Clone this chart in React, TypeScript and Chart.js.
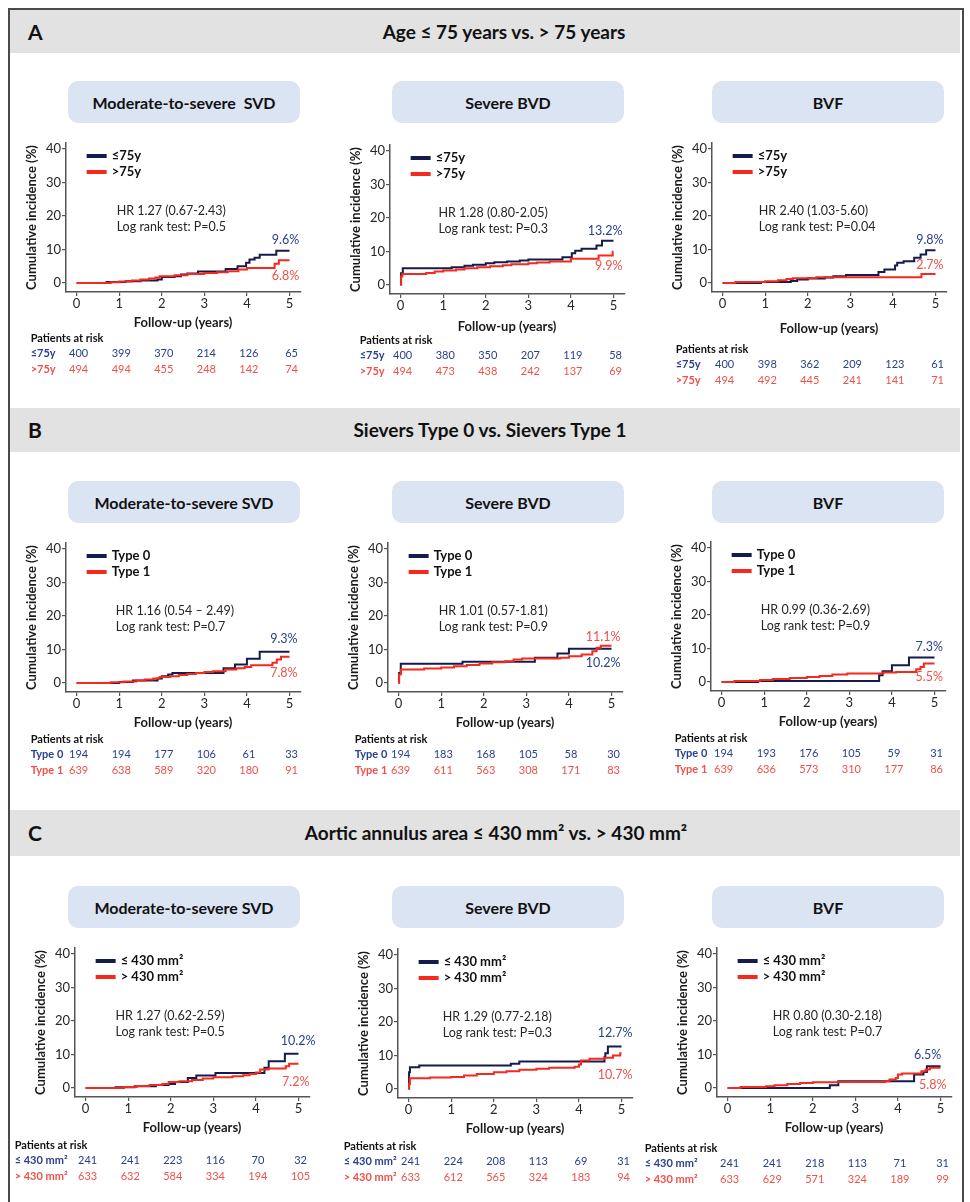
import React, { useEffect, useRef } from "react";
import { Chart, registerables } from "chart.js";
Chart.register(...registerables);

const FONT = "Lato, 'Open Sans', sans-serif";
const NAVY_LINE = "#141b4d";
const RED_LINE = "#f5291c";
const NAVY_TEXT = "#2a418d";
const RED_TEXT = "#ef5148";
const AXIS = "#555555";

const xTicks = [0, 1, 2, 3, 4, 5];
const yTicks = [0, 10, 20, 30, 40];

// ---------- Section A: Age <=75 vs >75 ----------
const aSvdLowT = [0, 0.7, 1.15, 1.5, 1.9, 2.0, 2.3, 2.45, 2.6, 2.85, 3.5, 3.78, 3.98, 4.06, 4.18, 4.3, 4.69, 5.0];
const aSvdLowY = [0, 0.3, 0.5, 0.7, 1.0, 1.8, 2.0, 2.5, 2.8, 3.4, 4.2, 5.0, 6.0, 7.0, 7.5, 8.4, 9.6, 9.6];
const aSvdHighT = [0, 0.8, 1.0, 1.3, 1.5, 1.7, 1.85, 1.95, 2.3, 2.6, 3.0, 3.3, 3.55, 3.8, 4.0, 4.65, 4.75, 5.0];
const aSvdHighY = [0, 0.2, 0.4, 0.7, 1.0, 1.3, 1.6, 2.0, 2.3, 2.7, 3.0, 3.2, 3.5, 4.0, 4.5, 5.7, 6.8, 6.8];
const aBvdLowT = [0, 0.01, 0.05, 1.2, 1.5, 1.7, 2.0, 2.2, 2.5, 2.8, 3.0, 3.8, 4.02, 4.1, 4.25, 4.6, 4.73, 5.0];
const aBvdLowY = [0, 3.5, 5.0, 5.3, 5.7, 6.0, 6.5, 6.8, 7.0, 7.3, 7.6, 8.3, 9.5, 10.2, 10.8, 11.8, 13.2, 13.2];
const aBvdHighT = [0, 0.01, 0.04, 0.6, 0.8, 1.0, 1.3, 1.5, 1.8, 2.1, 2.4, 2.6, 3.0, 3.2, 3.5, 4.0, 4.65, 4.98, 5.0];
const aBvdHighY = [0, 2.5, 3.3, 3.6, 4.0, 4.3, 4.6, 5.0, 5.3, 5.6, 5.9, 6.2, 6.5, 6.7, 7.0, 7.8, 8.8, 9.9, 9.9];
const aBvfLowT = [0, 0.9, 1.6, 1.75, 2.0, 2.4, 2.6, 2.9, 3.66, 3.8, 4.05, 4.1, 4.25, 4.5, 4.65, 4.78, 5.0];
const aBvfLowY = [0, 0.3, 0.6, 1.0, 1.3, 1.6, 2.0, 2.4, 3.3, 4.0, 5.2, 6.0, 6.5, 7.5, 8.5, 9.8, 9.8];
const aBvfHighT = [0, 0.3, 1.0, 1.3, 1.5, 1.65, 2.0, 2.2, 4.67, 5.0];
const aBvfHighY = [0, 0.3, 0.5, 0.8, 1.2, 1.4, 1.5, 1.7, 2.7, 2.7];
const aSvdRiskLow = [400, 399, 370, 214, 126, 65];
const aSvdRiskHigh = [494, 494, 455, 248, 142, 74];
const aBvdRiskLow = [400, 380, 350, 207, 119, 58];
const aBvdRiskHigh = [494, 473, 438, 242, 137, 69];
const aBvfRiskLow = [400, 398, 362, 209, 123, 61];
const aBvfRiskHigh = [494, 492, 445, 241, 141, 71];

// ---------- Section B: Sievers type 0 vs 1 ----------
const bSvdLowT = [0, 1.0, 1.32, 1.9, 2.0, 2.15, 2.25, 3.45, 3.72, 4.0, 4.3, 5.0];
const bSvdLowY = [0, 0.3, 0.7, 1.3, 2.0, 2.5, 3.0, 4.4, 5.5, 7.2, 9.3, 9.3];
const bSvdHighT = [0, 0.8, 1.1, 1.4, 1.6, 1.8, 1.95, 2.2, 2.4, 2.6, 2.8, 3.0, 3.2, 3.5, 3.75, 3.95, 4.1, 4.6, 4.7, 4.8, 5.0];
const bSvdHighY = [0, 0.2, 0.4, 0.7, 1.0, 1.3, 1.8, 2.0, 2.4, 2.7, 3.0, 3.3, 3.5, 4.0, 4.4, 4.8, 5.3, 6.0, 7.0, 7.8, 7.8];
const bBvdLowT = [0, 0.01, 0.05, 1.5, 3.2, 3.73, 4.0, 5.0];
const bBvdLowY = [0, 3.0, 5.7, 6.3, 7.5, 8.8, 10.2, 10.2];
const bBvdHighT = [0, 0.01, 0.05, 0.6, 1.0, 1.3, 1.6, 1.9, 2.2, 2.5, 2.7, 2.9, 3.8, 4.0, 4.3, 4.55, 4.65, 4.75, 5.0];
const bBvdHighY = [0, 2.5, 4.0, 4.3, 4.6, 5.0, 5.4, 5.8, 6.2, 6.5, 7.0, 7.3, 7.5, 8.0, 8.5, 9.5, 10.5, 11.1, 11.1];
const bBvfLowT = [0, 0.86, 3.7, 3.78, 4.0, 4.4, 5.0];
const bBvfLowY = [0, 0.3, 2.0, 3.2, 5.0, 7.3, 7.3];
const bBvfHighT = [0, 0.3, 0.9, 1.2, 1.6, 2.0, 2.3, 2.6, 2.95, 3.8, 4.1, 4.57, 4.67, 4.75, 5.0];
const bBvfHighY = [0, 0.3, 0.6, 0.9, 1.2, 1.5, 1.8, 2.2, 2.5, 2.8, 3.0, 3.8, 4.5, 5.5, 5.5];
const bSvdRiskLow = [194, 194, 177, 106, 61, 33];
const bSvdRiskHigh = [639, 638, 589, 320, 180, 91];
const bBvdRiskLow = [194, 183, 168, 105, 58, 30];
const bBvdRiskHigh = [639, 611, 563, 308, 171, 83];
const bBvfRiskLow = [194, 193, 176, 105, 59, 31];
const bBvfRiskHigh = [639, 636, 573, 310, 177, 86];

// ---------- Section C: annulus area ----------
const cSvdLowT = [0, 0.7, 1.15, 1.65, 1.95, 2.1, 2.4, 2.6, 3.05, 4.2, 4.3, 4.68, 5.0];
const cSvdLowY = [0, 0.2, 0.5, 0.9, 1.2, 1.8, 3.0, 3.7, 4.5, 6.0, 8.0, 10.2, 10.2];
const cSvdHighT = [0, 0.9, 1.2, 1.5, 1.8, 1.95, 2.2, 2.5, 2.75, 3.0, 3.45, 3.7, 3.85, 4.0, 4.1, 4.3, 4.7, 4.78, 5.0];
const cSvdHighY = [0, 0.3, 0.6, 0.9, 1.2, 1.8, 2.0, 2.4, 2.8, 3.2, 3.5, 3.8, 4.2, 4.6, 5.5, 5.8, 6.5, 7.2, 7.2];
const cBvdLowT = [0, 0.01, 0.03, 0.25, 2.4, 2.6, 4.6, 4.62, 4.68, 5.0];
const cBvdLowY = [0, 5.0, 6.5, 7.0, 7.5, 8.2, 9.5, 10.7, 12.7, 12.7];
const cBvdHighT = [0, 0.01, 0.03, 0.5, 1.0, 1.3, 1.6, 2.0, 2.3, 2.6, 3.0, 3.3, 3.9, 4.0, 4.05, 4.25, 4.6, 4.8, 4.97, 5.0];
const cBvdHighY = [0, 1.5, 3.2, 3.4, 3.6, 4.0, 4.5, 5.0, 5.3, 5.7, 6.0, 6.3, 6.6, 7.3, 8.5, 9.0, 9.3, 10.0, 10.7, 10.7];
const cBvfLowT = [0, 2.4, 2.6, 4.38, 4.6, 4.68, 5.0];
const cBvfLowY = [0, 0.8, 2.0, 4.0, 4.8, 6.5, 6.5];
const cBvfHighT = [0, 0.3, 0.9, 1.1, 1.4, 1.7, 2.0, 2.6, 3.7, 3.8, 3.95, 4.0, 4.1, 4.55, 4.65, 4.75, 5.0];
const cBvfHighY = [0, 0.3, 0.5, 0.8, 1.2, 1.5, 1.7, 1.8, 2.0, 2.5, 3.0, 4.0, 4.3, 5.0, 5.5, 6.0, 6.0];
const cSvdRiskLow = [241, 241, 223, 116, 70, 32];
const cSvdRiskHigh = [633, 632, 584, 334, 194, 105];
const cBvdRiskLow = [241, 224, 208, 113, 69, 31];
const cBvdRiskHigh = [633, 612, 565, 324, 183, 94];
const cBvfRiskLow = [241, 241, 218, 113, 71, 31];
const cBvfRiskHigh = [633, 629, 571, 324, 189, 99];

const ageNames = ["\u226475y", ">75y"];
const typeNames = ["Type 0", "Type 1"];
const areaNames = ["\u2264 430 mm\u00b2", "> 430 mm\u00b2"];

type EndLabel = { text: string; x: number; y: number };
type Panel = {
  key: string;
  x0: number;
  y0: number;
  names: string[];
  lowT: number[];
  lowY: number[];
  highT: number[];
  highY: number[];
  riskLow: number[];
  riskHigh: number[];
  hr: string;
  p: string;
  hrX: number;
  endLow: EndLabel;
  endHigh: EndLabel;
  riskOff: number;
  riskDy: number;
  followDy: number;
};

const panels: Panel[] = [
  { key: "a1", x0: 77, y0: 283, names: ageNames, lowT: aSvdLowT, lowY: aSvdLowY, highT: aSvdHighT, highY: aSvdHighY, riskLow: aSvdRiskLow, riskHigh: aSvdRiskHigh, hr: "HR 1.27 (0.67-2.43)", p: "Log rank test: P=0.5", hrX: 0.94, endLow: { text: "9.6%", x: 5.23, y: 12.8 }, endHigh: { text: "6.8%", x: 5.23, y: 2.1 }, riskOff: -46, riskDy: -1, followDy: 0 },
  { key: "a2", x0: 401, y0: 285, names: ageNames, lowT: aBvdLowT, lowY: aBvdLowY, highT: aBvdHighT, highY: aBvdHighY, riskLow: aBvdRiskLow, riskHigh: aBvdRiskHigh, hr: "HR 1.28 (0.80-2.05)", p: "Log rank test: P=0.3", hrX: 0.89, endLow: { text: "13.2%", x: 5.21, y: 16.1 }, endHigh: { text: "9.9%", x: 5.21, y: 5.7 }, riskOff: -41, riskDy: -1, followDy: 2 },
  { key: "a3", x0: 723, y0: 283, names: ageNames, lowT: aBvfLowT, lowY: aBvfLowY, highT: aBvfHighT, highY: aBvfHighY, riskLow: aBvfRiskLow, riskHigh: aBvfRiskHigh, hr: "HR 2.40 (1.03-5.60)", p: "Log rank test: P=0.04", hrX: 0.85, endLow: { text: "9.8%", x: 5.19, y: 12.8 }, endHigh: { text: "2.7%", x: 5.19, y: 5.4 }, riskOff: -47, riskDy: 10, followDy: 6 },
  { key: "b1", x0: 77, y0: 683, names: typeNames, lowT: bSvdLowT, lowY: bSvdLowY, highT: bSvdHighT, highY: bSvdHighY, riskLow: bSvdRiskLow, riskHigh: bSvdRiskHigh, hr: "HR 1.16 (0.54 \u2013 2.49)", p: "Log rank test: P=0.7", hrX: 0.92, endLow: { text: "9.3%", x: 5.19, y: 13.1 }, endHigh: { text: "7.8%", x: 5.19, y: 3.0 }, riskOff: -46, riskDy: 0, followDy: 0 },
  { key: "b2", x0: 399, y0: 683, names: typeNames, lowT: bBvdLowT, lowY: bBvdLowY, highT: bBvdHighT, highY: bBvdHighY, riskLow: bBvdRiskLow, riskHigh: bBvdRiskHigh, hr: "HR 1.01 (0.57-1.81)", p: "Log rank test: P=0.9", hrX: 0.94, endLow: { text: "10.2%", x: 5.21, y: 6.0 }, endHigh: { text: "11.1%", x: 5.21, y: 13.7 }, riskOff: -44, riskDy: 0, followDy: 0 },
  { key: "b3", x0: 722, y0: 682, names: typeNames, lowT: bBvfLowT, lowY: bBvfLowY, highT: bBvfHighT, highY: bBvfHighY, riskLow: bBvfRiskLow, riskHigh: bBvfRiskHigh, hr: "HR 0.99 (0.36-2.69)", p: "Log rank test: P=0.9", hrX: 0.92, endLow: { text: "7.3%", x: 5.2, y: 10.4 }, endHigh: { text: "5.5%", x: 5.2, y: 1.5 }, riskOff: -47, riskDy: 0, followDy: 0 },
  { key: "c1", x0: 86, y0: 1088, names: areaNames, lowT: cSvdLowT, lowY: cSvdLowY, highT: cSvdHighT, highY: cSvdHighY, riskLow: cSvdRiskLow, riskHigh: cSvdRiskHigh, hr: "HR 1.27 (0.62-2.59)", p: "Log rank test: P=0.5", hrX: 0.7, endLow: { text: "10.2%", x: 5.4, y: 14.0 }, endHigh: { text: "7.2%", x: 5.26, y: 1.8 }, riskOff: -71, riskDy: 1, followDy: 0 },
  { key: "c2", x0: 409, y0: 1089, names: areaNames, lowT: cBvdLowT, lowY: cBvdLowY, highT: cBvdHighT, highY: cBvdHighY, riskLow: cBvdRiskLow, riskHigh: cBvdRiskHigh, hr: "HR 1.29 (0.77-2.18)", p: "Log rank test: P=0.3", hrX: 0.8, endLow: { text: "12.7%", x: 5.26, y: 16.7 }, endHigh: { text: "10.7%", x: 5.26, y: 4.2 }, riskOff: -65, riskDy: 1, followDy: 0 },
  { key: "c3", x0: 728, y0: 1088, names: areaNames, lowT: cBvfLowT, lowY: cBvfLowY, highT: cBvfHighT, highY: cBvfHighY, riskLow: cBvfRiskLow, riskHigh: cBvfRiskHigh, hr: "HR 0.80 (0.30-2.18)", p: "Log rank test: P=0.7", hrX: 1.06, endLow: { text: "6.5%", x: 5.02, y: 9.9 }, endHigh: { text: "5.8%", x: 5.14, y: 0.9 }, riskOff: -83, riskDy: 4, followDy: 0 },
];

const CW = 340;
const CH = 258;
const ORIGIN_X = 97; // canvas x of t=0 (approx)
const ORIGIN_Y = 152; // canvas y of value 0
const Y_AXIS_W = 86;

function makeOverlay(p: Panel) {
  return {
    id: "kmOverlay",
    afterDraw(chart: any) {
      const { ctx, chartArea: ca, scales } = chart;
      const X = (v: number) => scales.x.getPixelForValue(v);
      const Y = (v: number) => scales.y.getPixelForValue(v);
      ctx.save();
      // legend
      const lx0 = X(0) + 10;
      const lx1 = X(0) + 30;
      const ly = Y(40);
      const leg: [string, string, number][] = [
        [NAVY_LINE, p.names[0], 7],
        [RED_LINE, p.names[1], 23],
      ];
      leg.forEach(([c, t, dy]) => {
        ctx.strokeStyle = c;
        ctx.lineWidth = 4;
        ctx.beginPath();
        ctx.moveTo(lx0, ly + dy);
        ctx.lineTo(lx1, ly + dy);
        ctx.stroke();
        ctx.fillStyle = "#111";
        ctx.font = `bold 13px ${FONT}`;
        ctx.textAlign = "left";
        ctx.textBaseline = "middle";
        ctx.fillText(t, lx1 + 5, ly + dy);
      });
      // HR text
      ctx.font = `12.5px ${FONT}`;
      ctx.fillStyle = "#262626";
      ctx.textAlign = "left";
      ctx.fillText(p.hr, X(p.hrX), Y(20) - 5);
      ctx.fillText(p.p, X(p.hrX), Y(20) + 11);
      // end labels
      ctx.textAlign = "right";
      ctx.font = `12.5px ${FONT}`;
      ctx.fillStyle = NAVY_TEXT;
      ctx.fillText(p.endLow.text, X(p.endLow.x), Y(p.endLow.y));
      ctx.fillStyle = RED_TEXT;
      ctx.fillText(p.endHigh.text, X(p.endHigh.x), Y(p.endHigh.y));
      // axis titles
      ctx.fillStyle = "#1a1a1a";
      ctx.font = `bold 13px ${FONT}`;
      ctx.save();
      ctx.translate(ca.left - 34, (ca.top + ca.bottom) / 2);
      ctx.rotate(-Math.PI / 2);
      ctx.textAlign = "center";
      ctx.fillText("Cumulative incidence (%)", 0, 0);
      ctx.restore();
      ctx.font = `bold 13px ${FONT}`;
      ctx.textAlign = "center";
      ctx.fillText("Follow-up (years)", (X(0) + X(5)) / 2, Y(0) + 40 + p.followDy);
      // risk table
      const r0 = Y(0) + p.riskDy;
      const lx = X(0) + p.riskOff;
      ctx.textAlign = "left";
      ctx.font = `bold 11px ${FONT}`;
      ctx.fillStyle = "#111";
      ctx.fillText("Patients at risk", lx, r0 + 56);
      ctx.fillStyle = NAVY_TEXT;
      ctx.fillText(p.names[0], lx, r0 + 71);
      ctx.fillStyle = RED_TEXT;
      ctx.fillText(p.names[1], lx, r0 + 87);
      ctx.font = `11px ${FONT}`;
      ctx.textAlign = "center";
      xTicks.forEach((t, i) => {
        ctx.fillStyle = NAVY_TEXT;
        ctx.fillText(String(p.riskLow[i]), X(t) + 2, r0 + 71);
        ctx.fillStyle = RED_TEXT;
        ctx.fillText(String(p.riskHigh[i]), X(t) + 2, r0 + 87);
      });
      ctx.restore();
    },
  };
}

function KMChart({ p }: { p: Panel }) {
  const ref = useRef<HTMLCanvasElement>(null);
  useEffect(() => {
    const toPts = (ts: number[], ys: number[]) => ts.map((t, i) => ({ x: t, y: ys[i] }));
    const chart = new Chart(ref.current as HTMLCanvasElement, {
      type: "line",
      data: {
        datasets: [
          {
            label: p.names[0],
            data: toPts(p.lowT, p.lowY),
            borderColor: NAVY_LINE,
            borderWidth: 2,
            pointRadius: 0,
            stepped: true,
            fill: false,
            order: 2,
          },
          {
            label: p.names[1],
            data: toPts(p.highT, p.highY),
            borderColor: RED_LINE,
            borderWidth: 2,
            pointRadius: 0,
            stepped: true,
            fill: false,
            order: 1,
          },
        ],
      },
      options: {
        animation: false,
        responsive: false,
        maintainAspectRatio: false,
        devicePixelRatio: 1,
        events: [],
        layout: { padding: { top: 12, right: CW - Y_AXIS_W - 235, bottom: 0, left: 0 }, autoPadding: false },
        plugins: { legend: { display: false }, tooltip: { enabled: false } },
        scales: {
          x: {
            type: "linear",
            min: -0.25,
            max: 5.27,
            afterBuildTicks: (s: any) => {
              s.ticks = xTicks.map((v) => ({ value: v }));
            },
            afterFit: (s: any) => {
              s.height = 97;
            },
            ticks: { font: { family: FONT, size: 13 }, color: "#262626", padding: 0, maxRotation: 0, autoSkip: false },
            grid: { drawOnChartArea: false, drawTicks: true, tickLength: 4, color: AXIS, lineWidth: 1.2 },
            border: { display: true, color: AXIS, width: 1.5 },
          },
          y: {
            type: "linear",
            min: -2.7,
            max: 41.8,
            afterBuildTicks: (s: any) => {
              s.ticks = yTicks.map((v) => ({ value: v }));
            },
            afterFit: (s: any) => {
              s.width = Y_AXIS_W;
            },
            ticks: { font: { family: FONT, size: 13 }, color: "#262626", padding: 1 },
            grid: { drawOnChartArea: false, drawTicks: true, tickLength: 4, color: AXIS, lineWidth: 1.2 },
            border: { display: true, color: AXIS, width: 1.5 },
          },
        },
      },
      plugins: [makeOverlay(p)],
    } as any);
    return () => chart.destroy();
  }, [p]);
  return (
    <canvas
      ref={ref}
      width={CW}
      height={CH}
      style={{ position: "absolute", left: p.x0 - ORIGIN_X, top: p.y0 - ORIGIN_Y, width: CW, height: CH }}
    />
  );
}

const bands = [
  { letter: "A", title: "Age \u2264 75 years vs. > 75 years", top: 10, h: 43, cx: 504 },
  { letter: "B", title: "Sievers Type 0 vs. Sievers Type 1", top: 408, h: 44, cx: 490 },
  { letter: "C", title: "Aortic annulus area \u2264 430 mm\u00b2 vs. > 430 mm\u00b2", top: 810, h: 46, cx: 496 },
];

const pillRows = [
  { top: 81, labels: ["Moderate-to-severe  SVD", "Severe BVD", "BVF"] },
  { top: 481, labels: ["Moderate-to-severe SVD", "Severe BVD", "BVF"] },
  { top: 886, labels: ["Moderate-to-severe SVD", "Severe BVD", "BVF"] },
];
const pillLefts = [68, 392, 712];

export default function App() {
  return (
    <div style={{ position: "absolute", left: 0, top: 0, width: 970, height: 1202, background: "#fff", overflow: "hidden", fontFamily: FONT }}>
      <div style={{ position: "absolute", left: 8, top: 8, width: 952, height: 1210, border: "2px solid #4a4a4a" }} />
      {bands.map((b) => (
        <div key={b.letter} style={{ position: "absolute", left: 10, top: b.top, width: 950, height: b.h, background: "#e2e2e2" }}>
          <div style={{ position: "absolute", left: 18, top: 0, height: b.h, lineHeight: b.h + "px", fontSize: 21, fontWeight: 700, color: "#111" }}>{b.letter}</div>
          <div style={{ position: "absolute", left: b.cx - 10, top: 0, height: b.h, lineHeight: b.h + "px", transform: "translateX(-50%)", whiteSpace: "nowrap", fontSize: 19, fontWeight: 700, color: "#111" }}>{b.title}</div>
        </div>
      ))}
      {pillRows.map((r, ri) =>
        r.labels.map((lab, i) => (
          <div
            key={ri + "-" + i}
            style={{ position: "absolute", left: pillLefts[i], top: r.top, width: 232, height: 42, borderRadius: 10, background: "#dbe4f3", display: "flex", alignItems: "center", justifyContent: "center", fontSize: 16, fontWeight: 700, color: "#111", whiteSpace: "pre" }}
          >
            {lab}
          </div>
        ))
      )}
      {panels.map((p) => (
        <KMChart key={p.key} p={p} />
      ))}
    </div>
  );
}
